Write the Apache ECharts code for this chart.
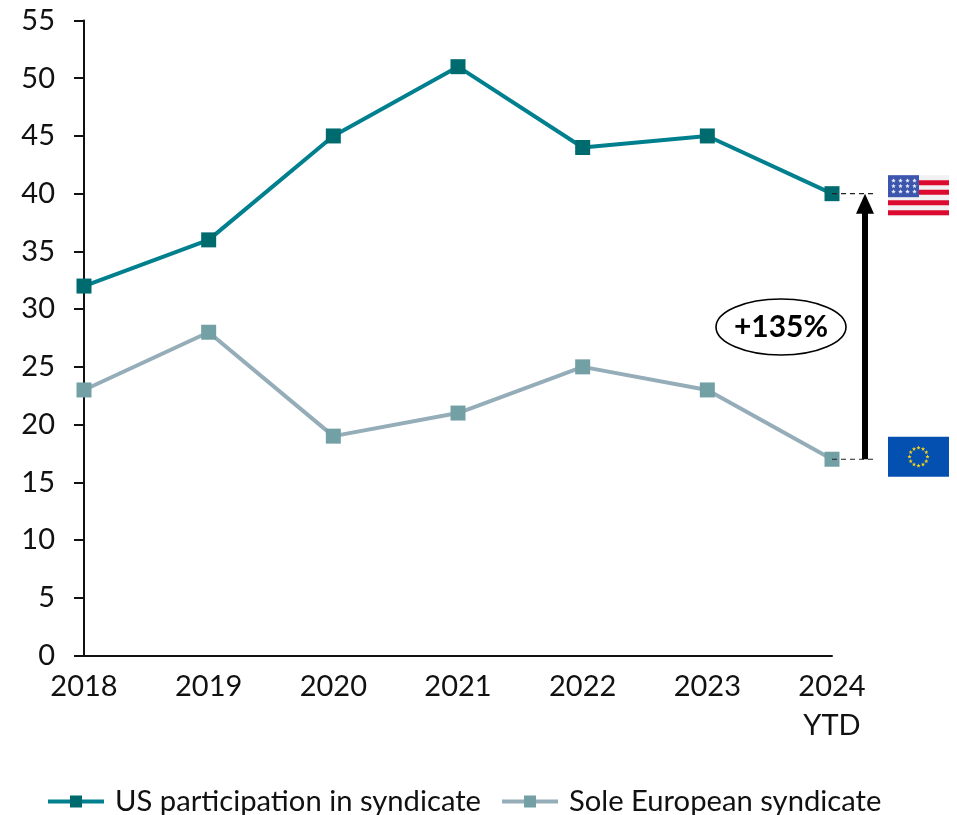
<!DOCTYPE html>
<html>
<head>
<meta charset="utf-8">
<style>html,body{margin:0;padding:0;background:#fff}#chart{width:957px;height:815px}</style>
<script src="https://cdn.jsdelivr.net/npm/echarts@6/dist/echarts.min.js"></script>
</head>
<body>
<div id="chart"></div>
<script>
// Syndicate composition by year
const years = ['2018', '2019', '2020', '2021', '2022', '2023', '2024\nYTD'];
const usParticipation = [32, 36, 45, 51, 44, 45, 40];
const soleEuropean = [23, 28, 19, 21, 25, 23, 17];
const yTicks = { min: 0, max: 55, interval: 5 };
const changeLabel = '+135%';
const FONT = 'Lato';
const INK = '#111';

const chart = echarts.init(document.getElementById('chart'), null, { renderer: 'canvas' });

function lineSeries(name, data, lineColor, markerColor) {
  return {
    name, type: 'line', data, symbol: 'rect', symbolSize: 15,
    lineStyle: { color: lineColor, width: 4 },
    itemStyle: { color: markerColor },
    clip: false, z: 3, animation: false
  };
}

// Five-pointed star as a polygon point list
function starPoints(cx, cy, r) {
  const pts = [];
  for (let i = 0; i < 10; i++) {
    const a = -Math.PI / 2 + i * Math.PI / 5;
    const rad = i % 2 ? r * 0.45 : r;
    pts.push([cx + rad * Math.cos(a), cy + rad * Math.sin(a)]);
  }
  return pts;
}

function usFlag(x, y) {
  const els = [{ type: 'rect', shape: { x, y, width: 61, height: 41 }, style: { fill: '#f1f1f3' } }];
  [5, 14.5, 25, 35].forEach(dy => {
    els.push({ type: 'rect', shape: { x, y: y + dy, width: 61, height: 5 }, style: { fill: '#dd0a2f' } });
  });
  els.push({ type: 'rect', shape: { x, y, width: 31, height: 22 }, style: { fill: '#3c56ae' } });
  for (let r = 0; r < 3; r++) {
    for (let c = 0; c < 4; c++) {
      els.push({ type: 'polygon', shape: { points: starPoints(x + 5.5 + c * 7, y + 5.5 + r * 5.5, 2.4) }, style: { fill: '#e8ecf8' } });
    }
  }
  return els;
}

function euFlag(x, y) {
  const els = [{ type: 'rect', shape: { x, y, width: 61, height: 40 }, style: { fill: '#0450b0' } }];
  const cx = x + 30.5, cy = y + 20;
  for (let i = 0; i < 12; i++) {
    const a = i * Math.PI / 6;
    els.push({ type: 'polygon', shape: { points: starPoints(cx + 9 * Math.sin(a), cy - 9 * Math.cos(a), 2.2) }, style: { fill: '#f7d117' } });
  }
  return els;
}

chart.setOption({
  animation: false,
  backgroundColor: '#fff',
  textStyle: { fontFamily: FONT },
  grid: { left: 84, right: 125, top: 20.5, bottom: 159.5, containLabel: false },
  xAxis: {
    type: 'category', data: years, boundaryGap: false,
    axisLine: { lineStyle: { color: INK, width: 2 } },
    axisTick: { show: false },
    axisLabel: { color: INK, fontSize: 29, fontFamily: FONT, margin: 12, lineHeight: 39, interval: 0 }
  },
  yAxis: {
    type: 'value', ...yTicks,
    splitLine: { show: false },
    axisLine: { show: true, lineStyle: { color: INK, width: 2 } },
    axisTick: { show: true, length: 10, lineStyle: { color: INK, width: 2 } },
    axisLabel: { color: INK, fontSize: 29, fontFamily: FONT, margin: 29 }
  },
  legend: {
    top: 782, left: 41, itemWidth: 56, itemHeight: 15, itemGap: 19,
    lineStyle: { width: 4 },
    textStyle: { color: INK, fontSize: 29.2, fontFamily: FONT, padding: [0, 0, 0, 6] },
    data: ['US participation in syndicate', 'Sole European syndicate']
  },
  series: [
    lineSeries('US participation in syndicate', usParticipation, '#00808f', '#006b6e'),
    lineSeries('Sole European syndicate', soleEuropean, '#95adb8', '#73a0a5')
  ]
});

// Annotations are placed from the axis scales
const last = years[years.length - 1];
const usEnd = usParticipation[usParticipation.length - 1];
const euEnd = soleEuropean[soleEuropean.length - 1];
const [xEnd, yUs] = chart.convertToPixel({ seriesIndex: 0 }, [last, usEnd]);
const [, yEu] = chart.convertToPixel({ seriesIndex: 1 }, [last, euEnd]);
const arrowX = xEnd + 33;
const dash = { stroke: '#222', lineWidth: 1.2, lineDash: [5, 4] };

chart.setOption({
  graphic: [
    { type: 'line', z: 5, shape: { x1: xEnd, y1: yUs, x2: xEnd + 43, y2: yUs }, style: dash },
    { type: 'line', z: 5, shape: { x1: xEnd, y1: yEu, x2: xEnd + 43, y2: yEu }, style: dash },
    { type: 'rect', z: 6, shape: { x: arrowX - 3, y: yUs + 18, width: 6, height: yEu - yUs - 18 }, style: { fill: '#000' } },
    { type: 'polygon', z: 6, shape: { points: [[arrowX, yUs], [arrowX - 9, yUs + 20], [arrowX + 9, yUs + 20]] }, style: { fill: '#000' } },
    { type: 'ellipse', z: 6, shape: { cx: 781, cy: 327, rx: 65, ry: 28 }, style: { fill: '#fff', stroke: '#000', lineWidth: 1.6 } },
    { type: 'text', z: 7, style: { x: 781, y: 327, text: changeLabel, fill: '#000', font: 'bold 30px ' + FONT, textAlign: 'center', textVerticalAlign: 'middle' } },
    ...usFlag(888, yUs - 18.5).map(e => ({ ...e, z: 4 })),
    ...euFlag(888, yEu - 22.5).map(e => ({ ...e, z: 4 }))
  ]
});
</script>
</body>
</html>
